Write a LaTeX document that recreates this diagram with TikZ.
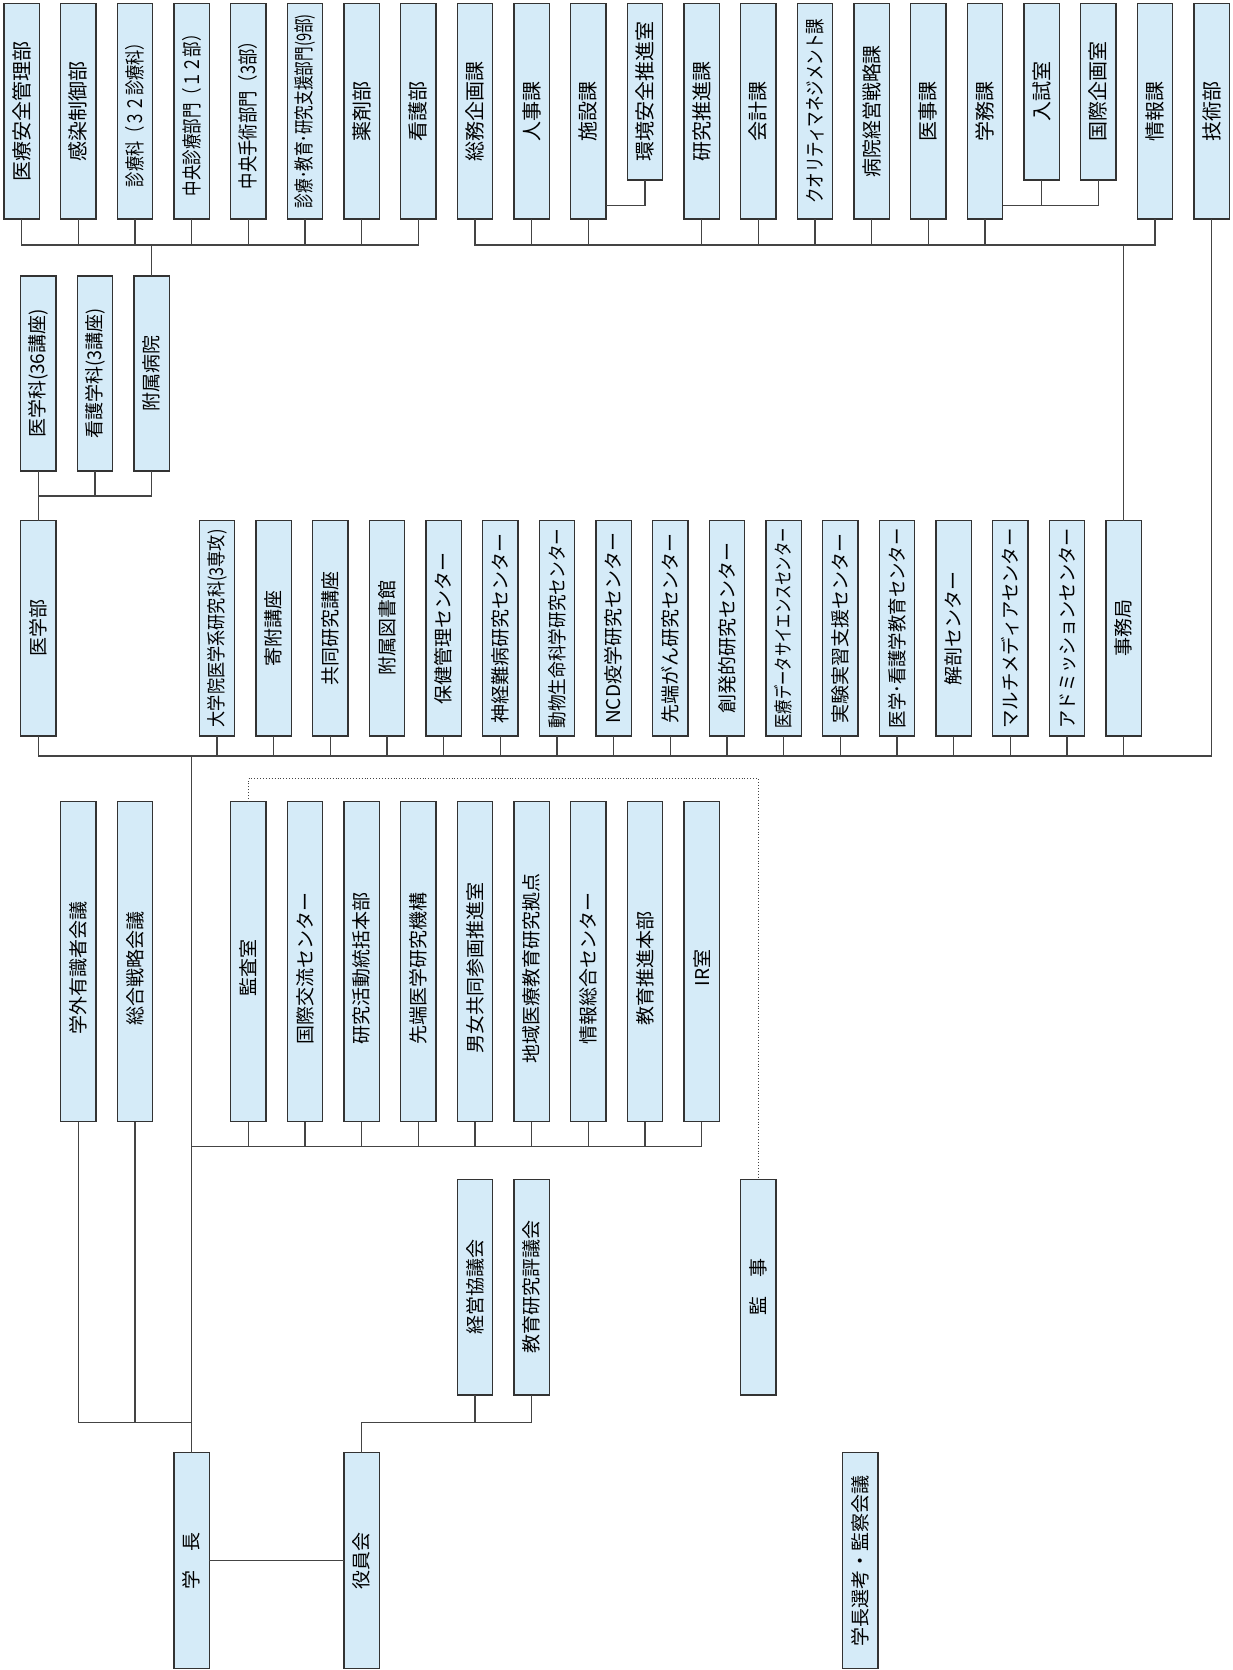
\documentclass[tikz,border=0pt]{standalone}
\usepackage{fontspec}
\setmainfont{Noto Sans CJK JP}
\usepackage{graphicx}
\definecolor{boxfill}{HTML}{D5EBF8}
\definecolor{boxline}{HTML}{333333}
\definecolor{connline}{HTML}{444444}
\newlength\fitL
\newlength\tshift
\setlength\tshift{0pt}
\newcommand\fitT[2]{\settowidth\fitL{#2}\ifdim\fitL>#1pt\relax\resizebox{#1pt}{\height}{#2}\else#2\fi}
% [target length]{name}{x left}{y top}{width}{height}{text}
\newcommand\bx[7][400]{\node[box,minimum width=#5pt,minimum height=#6pt] (#2) at (#3,#4) {\rotatebox{90}{\kern-\tshift\fitT{#1}{#7}}};}
\newcommand\fA{\fontsize{20}{22}\selectfont}
\newcommand\fB{\fontsize{19}{21}\selectfont}
\begin{document}
\begin{tikzpicture}[x=1pt,y=-1pt,
  box/.style={draw=boxline,fill=boxfill,line width=1.2pt,inner sep=0pt,outer sep=0pt,anchor=north west},
  conn/.style={draw=connline,line width=1.1pt},
  dotline/.style={draw=connline,line width=0.9pt,dotted}]
\fill[white] (0,0) rectangle (1232,1670);
\useasboundingbox (0,0) rectangle (1232,1670);

% ---- row 1
\begin{scope}[font=\fA]
\bx{t0}{4}{3.3}{35.3}{215.7}{医療安全管理部}
\bx{t1}{60.67}{3.3}{35.3}{215.7}{感染制御部}
\bx[152]{t2}{117.33}{3.3}{35.3}{215.7}{診療科（３２診療科）}
\bx[170]{t3}{174}{3.3}{35.3}{215.7}{中央診療部門（１２部）}
\bx[156]{t4}{230.67}{3.3}{35.3}{215.7}{中央手術部門（3部）}
\bx[194]{t5}{287.33}{3.3}{35.3}{215.7}{診療･教育･研究支援部門(9部)}
\bx{t6}{344}{3.3}{35.3}{215.7}{薬剤部}
\bx{t7}{400.67}{3.3}{35.3}{215.7}{看護部}
\bx{t8}{457.33}{3.3}{35.3}{215.7}{総務企画課}
\bx{t9}{514}{3.3}{35.3}{215.7}{人事課}
\bx{t10}{570.67}{3.3}{35.3}{215.7}{施設課}
\bx{t11}{627.33}{3.3}{35.3}{176.7}{環境安全推進室}
\bx{t12}{684}{3.3}{35.3}{215.7}{研究推進課}
\bx{t13}{740.67}{3.3}{35.3}{215.7}{会計課}
\bx[185]{t14}{797.33}{3.3}{35.3}{215.7}{クオリティマネジメント課}
\bx[132]{t15}{854}{3.3}{35.3}{215.7}{病院経営戦略課}
\bx{t16}{910.67}{3.3}{35.3}{215.7}{医事課}
\bx{t17}{967.33}{3.3}{35.3}{215.7}{学務課}
\bx{t18}{1024}{3.3}{35.3}{176.7}{入試室}
\bx{t19}{1080.67}{3.3}{35.3}{176.7}{国際企画室}
\bx{t20}{1137.33}{3.3}{35.3}{215.7}{情報課}
\bx{t21}{1194}{3.3}{35.3}{215.7}{技術部}
\end{scope}

\begin{scope}[font=\fB]
% ---- row 2
\bx{ika}{20.67}{276}{35.3}{195}{医学科(36講座)}
\bx[130]{kango}{77.33}{276}{35.3}{195}{看護学科(3講座)}
\bx{byoin}{134}{276}{35.3}{195}{附属病院}
% ---- row 3
\bx{igakubu}{20.67}{520.7}{35.3}{215.3}{医学部}
\bx[198]{m0}{199.33}{520.7}{35.3}{215.3}{大学院医学系研究科(3専攻)}
\bx[200]{m1}{256}{520.7}{35.3}{215.3}{寄附講座}
\bx[200]{m2}{312.67}{520.7}{35.3}{215.3}{共同研究講座}
\bx[200]{m3}{369.33}{520.7}{35.3}{215.3}{附属図書館}
\bx[200]{m4}{426}{520.7}{35.3}{215.3}{保健管理センター}
\bx[200]{m5}{482.67}{520.7}{35.3}{215.3}{神経難病研究センター}
\bx[200]{m6}{539.33}{520.7}{35.3}{215.3}{動物生命科学研究センター}
\bx[200]{m7}{596}{520.7}{35.3}{215.3}{NCD疫学研究センター}
\bx[200]{m8}{652.67}{520.7}{35.3}{215.3}{先端がん研究センター}
\bx[200]{m9}{709.33}{520.7}{35.3}{215.3}{創発的研究センター}
\bx[200]{m10}{766}{520.7}{35.3}{215.3}{医療データサイエンスセンター}
\bx[200]{m11}{822.67}{520.7}{35.3}{215.3}{実験実習支援センター}
\bx[200]{m12}{879.33}{520.7}{35.3}{215.3}{医学･看護学教育センター}
\bx[200]{m13}{936}{520.7}{35.3}{215.3}{解剖センター}
\bx[200]{m14}{992.67}{520.7}{35.3}{215.3}{マルチメディアセンター}
\bx[200]{m15}{1049.33}{520.7}{35.3}{215.3}{アドミッションセンター}
\bx[200]{m16}{1106}{520.7}{35.3}{215.3}{事務局}
\end{scope}

% ---- row 4
\begin{scope}[font=\fB]
\setlength\tshift{13pt}
\bx{gaigai}{60.67}{801.7}{35.3}{319.8}{学外有識者会議}
\bx{sogo}{117.33}{801.7}{35.3}{319.8}{総合戦略会議}
\bx{kansa}{230.67}{801.7}{35.3}{319.8}{監査室}
\bx{r5}{287.33}{801.7}{35.3}{319.8}{国際交流センター}
\bx{r6}{344}{801.7}{35.3}{319.8}{研究活動統括本部}
\bx{r7}{400.67}{801.7}{35.3}{319.8}{先端医学研究機構}
\bx{r8}{457.33}{801.7}{35.3}{319.8}{男女共同参画推進室}
\bx{r9}{514}{801.7}{35.3}{319.8}{地域医療教育研究拠点}
\bx{r10}{570.67}{801.7}{35.3}{319.8}{情報総合センター}
\bx{r11}{627.33}{801.7}{35.3}{319.8}{教育推進本部}
\bx{r12}{684}{801.7}{35.3}{319.8}{IR室}
\end{scope}

\begin{scope}[font=\fB]
% ---- row 5
\bx{keiei}{457.33}{1179.3}{35.3}{215.7}{経営協議会}
\bx{kyoiku}{514}{1179.3}{35.3}{215.7}{教育研究評議会}
\bx{kanji}{740.67}{1179.3}{35.3}{215.7}{監\hspace{1em}事}
% ---- row 6
\bx{gakucho}{174}{1452.7}{35.3}{215.6}{学\hspace{1em}長}
\bx{yakuin}{344}{1452.7}{35.3}{215.6}{役員会}
\bx{senko}{842.67}{1452.7}{35.3}{215.6}{学長選考・監察会議}
\end{scope}

% ---- levels
\coordinate (b1) at (0,245);
\coordinate (s1) at (0,205.7);
\coordinate (b2) at (0,496);
\coordinate (b3) at (0,756);
\coordinate (b4) at (0,1146.7);
\coordinate (b5) at (0,1422.5);
\coordinate (dl) at (0,778.7);

% ---- row 1 connectors
\draw[conn] (t0.south) -- (t0.south |- b1) -- (t7.south |- b1) -- (t7.south);
\foreach \n in {t1,t2,t3,t4,t5,t6} {\draw[conn] (\n.south) -- (\n.south |- b1);}
\draw[conn] (byoin.north) -- (byoin.north |- b1);
\draw[conn] (t8.south) -- (t8.south |- b1) -- (t20.south |- b1) -- (t20.south);
\foreach \n in {t9,t10,t12,t13,t14,t15,t16,t17} {\draw[conn] (\n.south) -- (\n.south |- b1);}
\draw[conn] (m16.north) -- (m16.north |- b1);
\draw[conn] (t11.south) -- (t11.south |- s1) -- (t10.east |- s1);
\draw[conn] (t19.south) -- (t19.south |- s1) -- (t17.east |- s1);
\draw[conn] (t18.south) -- (t18.south |- s1);

% ---- row 2 connectors
\draw[conn] (ika.south) -- (ika.south |- b2) -- (byoin.south |- b2) -- (byoin.south);
\draw[conn] (kango.south) -- (kango.south |- b2);
\draw[conn] (igakubu.north) -- (igakubu.north |- b2);

% ---- row 3 connectors
\draw[conn] (igakubu.south) -- (igakubu.south |- b3) -- (t21.south |- b3) -- (t21.south);
\foreach \i in {0,...,16} {\draw[conn] (m\i.south) -- (m\i.south |- b3);}
\draw[conn] (gakucho.north) -- (gakucho.north |- b3);

% ---- row 4 connectors
\draw[conn] (gakucho.north |- b4) -- (r12.south |- b4) -- (r12.south);
\foreach \n in {kansa,r5,r6,r7,r8,r9,r10,r11} {\draw[conn] (\n.south) -- (\n.south |- b4);}
\draw[conn] (gaigai.south) -- (gaigai.south |- b5) -- (gakucho.north |- b5);
\draw[conn] (sogo.south) -- (sogo.south |- b5);

% ---- row 5 / 6 connectors
\draw[conn] (yakuin.north) -- (yakuin.north |- b5) -- (kyoiku.south |- b5) -- (kyoiku.south);
\draw[conn] (keiei.south) -- (keiei.south |- b5);
\draw[conn] (gakucho.east) -- (yakuin.west);

% ---- dotted audit line
\draw[dotline] (kansa.north) -- (kansa.north |- dl) -- (kanji.north |- dl) -- (kanji.north);
\end{tikzpicture}
\end{document}
